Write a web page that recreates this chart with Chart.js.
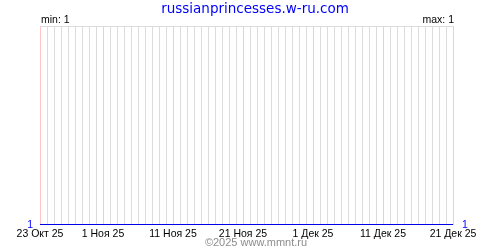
<!DOCTYPE html>
<html>
<head>
<meta charset="utf-8">
<script src="https://cdn.jsdelivr.net/npm/chart.js@4"></script>
<style>
  html, body { margin: 0; padding: 0; background: #fff; }
  canvas { display: block; }
</style>
</head>
<body>
<canvas id="wykres" width="500" height="250"></canvas>
<script>
var siteTitle = 'russianprincesses.w-ru.com';
var footerText = '©2025 www.mmnt.ru';

// one entry per day, 23 Oct .. 21 Dec
var days = [
  '23 Окт 25', '24 Окт 25', '25 Окт 25', '26 Окт 25', '27 Окт 25', '28 Окт 25', '29 Окт 25', '30 Окт 25', '31 Окт 25',
  '1 Ноя 25', '2 Ноя 25', '3 Ноя 25', '4 Ноя 25', '5 Ноя 25', '6 Ноя 25', '7 Ноя 25', '8 Ноя 25', '9 Ноя 25', '10 Ноя 25',
  '11 Ноя 25', '12 Ноя 25', '13 Ноя 25', '14 Ноя 25', '15 Ноя 25', '16 Ноя 25', '17 Ноя 25', '18 Ноя 25', '19 Ноя 25', '20 Ноя 25',
  '21 Ноя 25', '22 Ноя 25', '23 Ноя 25', '24 Ноя 25', '25 Ноя 25', '26 Ноя 25', '27 Ноя 25', '28 Ноя 25', '29 Ноя 25', '30 Ноя 25',
  '1 Дек 25', '2 Дек 25', '3 Дек 25', '4 Дек 25', '5 Дек 25', '6 Дек 25', '7 Дек 25', '8 Дек 25', '9 Дек 25', '10 Дек 25',
  '11 Дек 25', '12 Дек 25', '13 Дек 25', '14 Дек 25', '15 Дек 25', '16 Дек 25', '17 Дек 25', '18 Дек 25', '19 Дек 25', '20 Дек 25',
  '21 Дек 25'
];

var visits = [
  1, 1, 1, 1, 1, 1, 1, 1, 1,
  1, 1, 1, 1, 1, 1, 1, 1, 1, 1,
  1, 1, 1, 1, 1, 1, 1, 1, 1, 1,
  1, 1, 1, 1, 1, 1, 1, 1, 1, 1,
  1, 1, 1, 1, 1, 1, 1, 1, 1, 1,
  1, 1, 1, 1, 1, 1, 1, 1, 1, 1,
  1
];

// labelled days (red grid lines)
var tickDays = ['23 Окт 25', '1 Ноя 25', '11 Ноя 25', '21 Ноя 25', '1 Дек 25', '11 Дек 25', '21 Дек 25'];

var minVal = 1;
var maxVal = 1;

var smallFont = { family: 'Liberation Sans', size: 10.5 };

var napisy = {
  id: 'napisy',
  afterDraw: function (chart) {
    var c = chart.ctx;
    var a = chart.chartArea;
    c.save();
    c.textBaseline = 'alphabetic';
    c.fillStyle = '#0000ff';
    c.font = '13.5px "DejaVu Sans"';
    c.textAlign = 'center';
    c.fillText(siteTitle, 255, 13);

    c.fillStyle = '#000';
    c.font = '10.5px "Liberation Sans"';
    c.textAlign = 'left';
    c.fillText('min: ' + minVal, a.left + 1, 23);
    c.textAlign = 'right';
    c.fillText('max: ' + maxVal, a.right + 1, 23);

    c.fillStyle = '#8c8c8c';
    c.font = '11px "Liberation Sans"';
    c.textAlign = 'center';
    c.fillText(footerText, 256, 246);
    c.restore();
  }
};

new Chart(document.getElementById('wykres'), {
  type: 'line',
  data: {
    labels: days,
    datasets: [{
      data: visits,
      borderColor: '#0000e6',
      borderWidth: 2,
      pointRadius: 0,
      fill: false,
      tension: 0
    }]
  },
  options: {
    responsive: false,
    animation: false,
    layout: { padding: { top: 26, left: 0, right: 0, bottom: 0 } },
    plugins: {
      legend: { display: false },
      tooltip: { enabled: false }
    },
    scales: {
      x: {
        offset: false,
        border: { display: false },
        grid: {
          drawTicks: false,
          color: function (ctx) {
            return tickDays.indexOf(days[ctx.index]) >= 0 ? '#ffc4c4' : '#dcdcdc';
          }
        },
        ticks: {
          autoSkip: false,
          minRotation: 0,
          maxRotation: 0,
          padding: 3,
          color: '#000',
          font: smallFont,
          callback: function (v, i) {
            return tickDays.indexOf(days[i]) >= 0 ? days[i] : '';
          }
        },
        afterFit: function (s) { s.height = 25; }
      },
      y: {
        position: 'left',
        min: 1,
        max: 2,
        border: { display: false },
        grid: {
          drawTicks: false,
          color: function (ctx) {
            return ctx.tick && ctx.tick.value === 2 ? '#dcdcdc' : 'rgba(0,0,0,0)';
          }
        },
        ticks: {
          stepSize: 1,
          padding: 7,
          color: '#0000ff',
          font: smallFont,
          callback: function (v) { return v === minVal ? String(v) : ''; }
        },
        afterFit: function (s) { s.width = 40; }
      },
      y2: {
        position: 'right',
        min: 1,
        max: 2,
        border: { display: false },
        grid: { display: false, drawTicks: false },
        ticks: {
          stepSize: 1,
          padding: 9,
          color: '#0000ff',
          font: smallFont,
          callback: function (v) { return v === maxVal ? String(v) : ''; }
        },
        afterFit: function (s) { s.width = 47; }
      }
    }
  },
  plugins: [napisy]
});
</script>
</body>
</html>
